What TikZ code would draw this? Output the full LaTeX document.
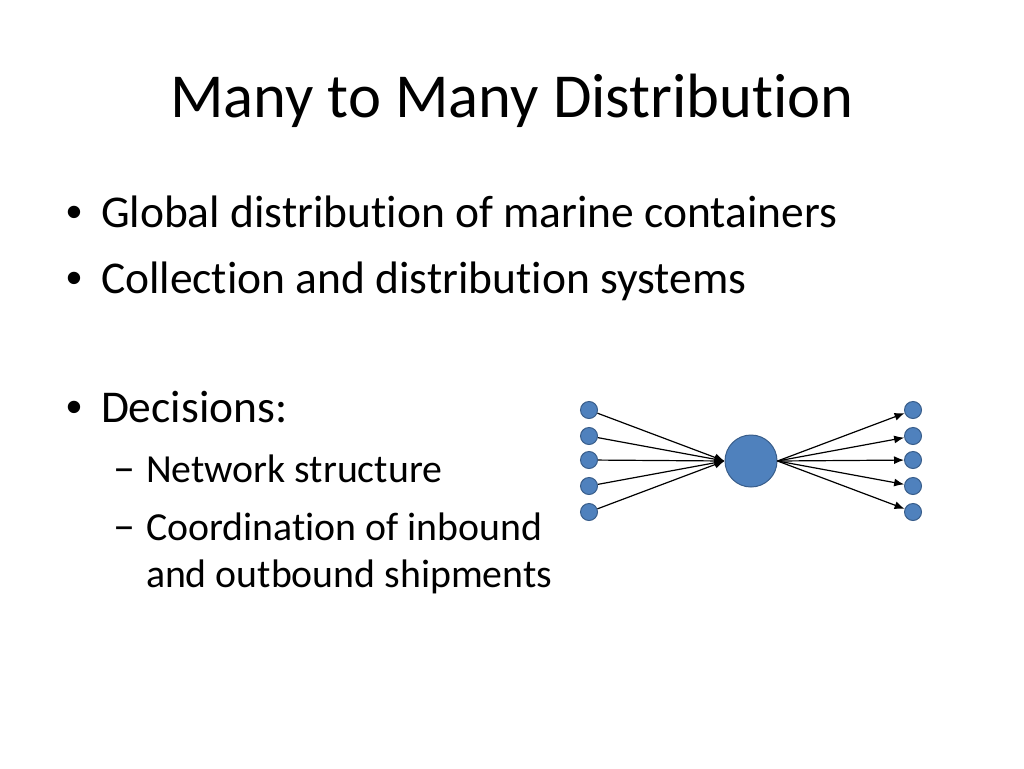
\documentclass[tikz,border=0pt]{standalone}
\usepackage{fontspec}
\setmainfont[Ligatures=NoCommon]{Carlito}
\newfontfamily\bulletfont{Liberation Sans}
\usetikzlibrary{arrows.meta}
\definecolor{nodefill}{HTML}{4F81BD}
\definecolor{nodeedge}{HTML}{385D8A}
\begin{document}
\begin{tikzpicture}[x=1pt,y=-1pt,
  txt/.style={anchor=base west,inner sep=0pt,outer sep=0pt},
  body/.style={txt,font=\fontsize{45.5}{54}\selectfont},
  bul/.style={txt,font=\bulletfont\fontsize{45.5}{54}\selectfont},
  sub/.style={txt,font=\fontsize{39.8}{48}\selectfont},
  small/.style={circle,draw=nodeedge,line width=1pt,fill=nodefill,minimum size=17pt,inner sep=0pt},
  hub/.style={circle,draw=nodeedge,line width=1pt,fill=nodefill,minimum size=52pt,inner sep=0pt},
  arr/.style={-{Latex[length=10pt,width=8pt]},line width=1.2pt}]
\useasboundingbox (0,0) rectangle (1024,768);
\fill[white] (0,0) rectangle (1024,768);
\node[anchor=base,inner sep=0pt,font=\fontsize{62.6}{70}\selectfont] (title) at (512,117) {Many to Many Distribution};
\node[bul] (b1d) at (66,227) {•};
\node[body] (b1) at (101,227) {Global distribution of marine containers};
\node[bul] (b2d) at (66,293) {•};
\node[body] (b2) at (101,293) {Collection and distribution systems};
\node[bul] (b3d) at (66,422) {•};
\node[body] (b3) at (101,422) {Decisions:};
\node[sub] (s1d) at (113,482) {\fontsize{44}{48}\selectfont –};
\node[sub] (s1) at (146,482) {Network structure};
\node[sub] (s2d) at (113,540) {\fontsize{44}{48}\selectfont –};
\node[sub] (s2) at (146,540) {Coordination of inbound};
\node[sub] (s2b) at (146,587) {and outbound shipments};
\foreach \i/\y in {1/410,2/436,3/460,4/486,5/512}{
  \node[small] (l\i) at (589,\y) {};
  \node[small] (r\i) at (913,\y) {};
}
\node[hub] (h) at (751,461) {};
\foreach \i in {1,...,5}{
  \draw[arr] (l\i) -- (h.west);
  \draw[arr] (h.east) -- (r\i);
}
\end{tikzpicture}
\end{document}
